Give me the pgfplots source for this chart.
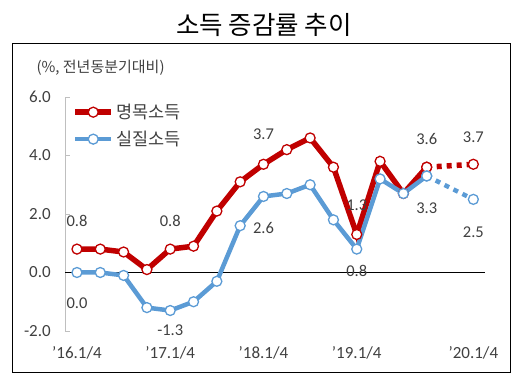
\documentclass[border=0pt]{standalone}
\usepackage{fontspec}
\setmainfont{Carlito}
\newfontfamily\kr{Noto Sans CJK KR}
\usepackage{pgfplots}
\usepackage{pgfplotstable}
\pgfplotsset{compat=1.18}
\definecolor{myred}{HTML}{C00000}
\definecolor{myblue}{HTML}{5B9BD5}
\definecolor{txt}{HTML}{404040}

\pgfplotstableread{
x y
0 0.8
1 0.8
2 0.7
3 0.1
4 0.8
5 0.9
6 2.1
7 3.1
8 3.7
9 4.2
10 4.6
11 3.6
12 1.3
13 3.8
14 2.7
15 3.6
}\redsolid
\pgfplotstableread{
x y
15 3.6
17 3.7
}\reddot
\pgfplotstableread{
x y
0 0.0
1 0.0
2 -0.1
3 -1.2
4 -1.3
5 -1.0
6 -0.3
7 1.6
8 2.6
9 2.7
10 3.0
11 1.8
12 0.8
13 3.2
14 2.7
15 3.3
}\bluesolid
\pgfplotstableread{
x y
15 3.3
17 2.5
}\bluedot
\pgfplotstableread{
x y lab off
0 0.8 0.8 28
4 0.8 0.8 28
8 3.7 3.7 30
12 1.3 1.3 29
15 3.6 3.6 28
17 3.7 3.7 27
}\redlab
\pgfplotstableread{
x y lab off
0 0.0 0.0 -31
4 -1.3 -1.3 -20
8 2.6 2.6 -32
12 0.8 0.8 -22
15 3.3 3.3 -32
17 2.5 2.5 -33
}\bluelab

\begin{document}
\begin{tikzpicture}
\path[use as bounding box] (0,0) rectangle (522pt,385pt);
\draw[line width=1pt] (12.7pt,12pt) rectangle (510pt,341pt);
\node[font=\kr\fontsize{25.5}{30}\selectfont] at (264pt,360pt) {소득 증감률 추이};
\node[font=\kr\fontsize{15}{18}\selectfont, text=txt, anchor=west] at (33pt,317pt) {(\%, 전년동분기대비)};
\begin{axis}[
  at={(65.3pt,54pt)}, anchor=south west,
  scale only axis, width=419.7pt, height=234pt,
  xmin=-0.5, xmax=17.5, ymin=-2, ymax=6,
  axis y line*=left, axis x line*=bottom,
  x axis line style={draw=none},
  y axis line style={draw=gray!50, line width=0.8pt},
  ytick={-2,0,2,4,6},
  yticklabels={-2.0,0.0,2.0,4.0,6.0},
  ytick style={draw=gray!50, line width=0.8pt},
  tick align=inside, major tick length=5pt,
  xtick={0,4,8,12,17},
  xticklabels={'16.1/4,'17.1/4,'18.1/4,'19.1/4,'20.1/4},
  xtick style={draw=none},
  tick label style={font=\fontsize{17}{20}\selectfont, text=txt},
  yticklabel style={xshift=-11pt},
  xticklabel style={yshift=-12pt},
  clip=false,
  legend style={at={(axis cs:-0.5,6)}, anchor=north west, xshift=4pt, yshift=-3pt,
    draw=none, fill=none, font=\kr\fontsize{17.5}{20}\selectfont, text=txt,
    row sep=7pt, legend cell align=left},
  legend image code/.code={\draw[mark repeat=2,mark phase=2,#1] plot coordinates {(0pt,0pt)(18pt,0pt)(36pt,0pt)};},
]
\draw[black, line width=0.9pt] (axis cs:-0.5,0) -- (axis cs:17.5,0);
\addplot[myred, line width=5.5pt, mark=*, mark size=5pt, mark options={fill=white, draw=myred, line width=1.3pt}] table {\redsolid};
\addlegendentry{명목소득}
\addplot[myred, line width=5.5pt, dash pattern=on 5pt off 5pt, mark=*, mark size=5pt, mark options={solid, fill=white, draw=myred, line width=1.3pt}, forget plot] table {\reddot};
\addplot[myblue, line width=4.5pt, mark=*, mark size=5pt, mark options={fill=white, draw=myblue, line width=1.3pt}] table {\bluesolid};
\addlegendentry{실질소득}
\addplot[myblue, line width=4.5pt, dash pattern=on 5pt off 5pt, mark=*, mark size=5pt, mark options={solid, fill=white, draw=myblue, line width=1.3pt}, forget plot] table {\bluedot};
\addplot[draw=none, mark=none, forget plot, nodes near coords, point meta=explicit symbolic,
  visualization depends on={\thisrow{off}\as\off},
  nodes near coords style={anchor=center, yshift=\off pt, font=\fontsize{16.5}{19}\selectfont, text=txt}]
  table[meta=lab] {\redlab};
\addplot[draw=none, mark=none, forget plot, nodes near coords, point meta=explicit symbolic,
  visualization depends on={\thisrow{off}\as\off},
  nodes near coords style={anchor=center, yshift=\off pt, font=\fontsize{16.5}{19}\selectfont, text=txt}]
  table[meta=lab] {\bluelab};
\end{axis}
\end{tikzpicture}
\end{document}
